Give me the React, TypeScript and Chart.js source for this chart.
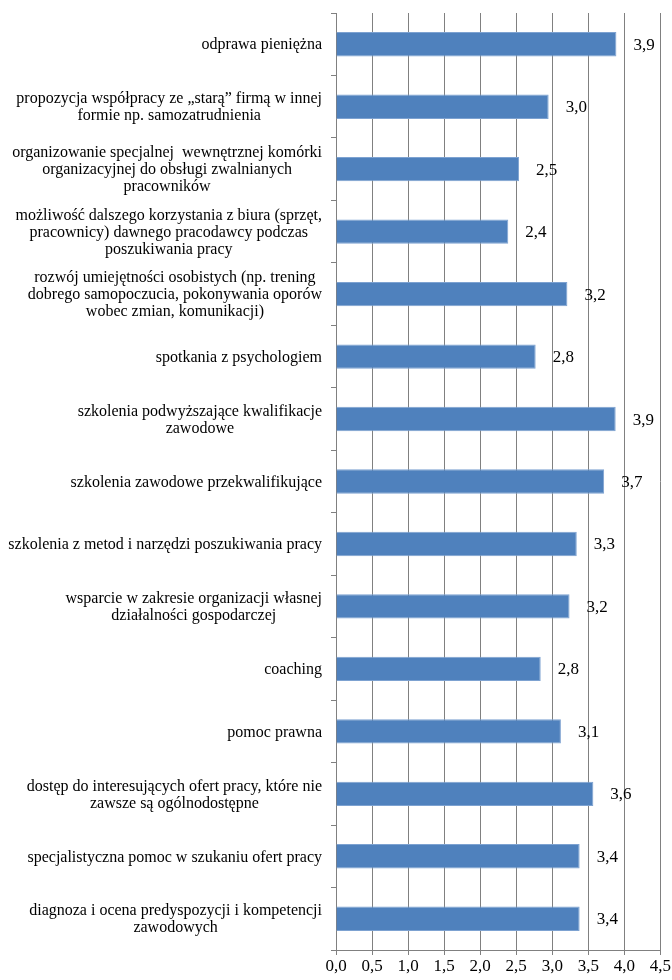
import React, { useEffect, useRef } from "react";
import { Chart, registerables } from "chart.js";

Chart.register(...registerables);

const categories: string[][] = [
  ["odprawa pieniężna"],
  ["propozycja współpracy ze „starą” firmą w innej", "formie np. samozatrudnienia"],
  ["organizowanie specjalnej  wewnętrznej komórki", "organizacyjnej do obsługi zwalnianych", "pracowników"],
  ["możliwość dalszego korzystania z biura (sprzęt,", "pracownicy) dawnego pracodawcy podczas", "poszukiwania pracy"],
  ["rozwój umiejętności osobistych (np. trening", "dobrego samopoczucia, pokonywania oporów", "wobec zmian, komunikacji)"],
  ["spotkania z psychologiem"],
  ["szkolenia podwyższające kwalifikacje", "zawodowe"],
  ["szkolenia zawodowe przekwalifikujące"],
  ["szkolenia z metod i narzędzi poszukiwania pracy"],
  ["wsparcie w zakresie organizacji własnej", "działalności gospodarczej"],
  ["coaching"],
  ["pomoc prawna"],
  ["dostęp do interesujących ofert pracy, które nie", "zawsze są ogólnodostępne"],
  ["specjalistyczna pomoc w szukaniu ofert pracy"],
  ["diagnoza i ocena predyspozycji i kompetencji", "zawodowych"],
];

const values: number[] = [
  3.89, 2.95, 2.54, 2.39, 3.21, 2.77, 3.88, 3.72, 3.34, 3.24, 2.84, 3.12, 3.57, 3.38, 3.38,
];

const xMin = 0;
const xMax = 4.5;
const xStep = 0.5;

const SERIF = "'Liberation Serif', 'Times New Roman', serif";
const GRID = "#808080";

const fmt = (v: number) => v.toFixed(1).replace(".", ",");

const categoryLabelPlugin = {
  id: "categoryLabels",
  afterDraw(chart: any) {
    const ctx = chart.ctx as CanvasRenderingContext2D;
    const yScale = chart.scales.y;
    const right = chart.chartArea.left - 14;
    const lh = 17;
    ctx.save();
    ctx.font = `16px ${SERIF}`;
    ctx.fillStyle = "#000";
    ctx.textAlign = "center";
    ctx.textBaseline = "middle";
    categories.forEach((lines, i) => {
      const cy = yScale.getPixelForValue(i) + 1;
      const w = Math.max(...lines.map((l) => ctx.measureText(l).width));
      const cx = right - w / 2;
      lines.forEach((line, j) => {
        ctx.fillText(line, cx, cy + (j - (lines.length - 1) / 2) * lh);
      });
    });
    ctx.restore();
  },
};

const valueLabelPlugin = {
  id: "valueLabels",
  afterDatasetsDraw(chart: any) {
    const ctx = chart.ctx as CanvasRenderingContext2D;
    const meta = chart.getDatasetMeta(0);
    ctx.save();
    ctx.font = `17px ${SERIF}`;
    ctx.fillStyle = "#000";
    ctx.textAlign = "left";
    ctx.textBaseline = "middle";
    meta.data.forEach((bar: any, i: number) => {
      ctx.fillText(fmt(values[i]), bar.x + 17, bar.y + 1);
    });
    ctx.restore();
  },
};

export default function App() {
  const ref = useRef<HTMLCanvasElement | null>(null);
  useEffect(() => {
    document.body.style.margin = "0";
    document.body.style.overflow = "hidden";
    if (!ref.current) return;
    const chart = new Chart(ref.current, {
      type: "bar",
      data: {
        labels: categories.map((c) => c.join(" ")),
        datasets: [
          {
            data: values,
            backgroundColor: "#4f81bd",
            borderColor: "#7da2d1",
            borderWidth: 1,
            barPercentage: 0.39,
            categoryPercentage: 1,
          },
        ],
      },
      options: {
        indexAxis: "y",
        animation: false,
        responsive: true,
        maintainAspectRatio: false,
        layout: { padding: { top: 13, bottom: 0, left: 0, right: 0 } },
        plugins: {
          legend: { display: false },
          tooltip: { enabled: false },
          title: { display: false },
        },
        scales: {
          x: {
            type: "linear",
            min: xMin,
            max: xMax,
            ticks: {
              stepSize: xStep,
              color: "#000",
              font: { family: SERIF, size: 17 },
              padding: 1,
              callback: (v: any) => fmt(Number(v)),
            },
            grid: {
              color: GRID,
              lineWidth: 1,
              drawTicks: true,
              tickLength: 5,
            },
            border: { display: true, color: GRID, width: 1 },
            afterFit: (s: any) => {
              s.height = 30;
            },
          },
          y: {
            type: "category",
            ticks: { display: false },
            grid: {
              drawOnChartArea: false,
              drawTicks: true,
              tickLength: 5,
              color: GRID,
              offset: true,
            },
            border: { display: true, color: GRID, width: 1 },
            afterFit: (s: any) => {
              s.width = 336;
            },
          },
        },
      },
      plugins: [categoryLabelPlugin, valueLabelPlugin],
    });
    return () => chart.destroy();
  }, []);

  return (
    <div style={{ width: 672, height: 980, position: "relative" }}>
      <canvas ref={ref} />
    </div>
  );
}
